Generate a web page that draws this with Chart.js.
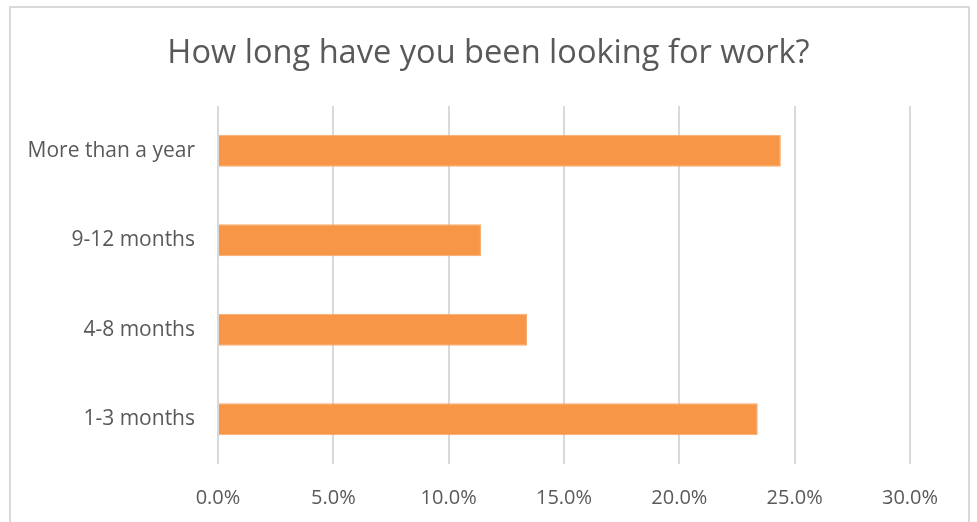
<!DOCTYPE html>
<html>
<head>
<meta charset="utf-8">
<script src="https://cdn.jsdelivr.net/npm/chart.js@4"></script>
<style>
  html, body { margin: 0; padding: 0; background: #ffffff; }
  #wrap { position: relative; width: 977px; height: 522px; }
</style>
</head>
<body>
<div id="wrap"><canvas id="c" width="977" height="522"></canvas></div>
<script>
const categories = ["More than a year", "9-12 months", "4-8 months", "1-3 months"];
const values = [24.4, 11.4, 13.4, 23.4];
const xTickMin = 0;
const xTickMax = 30;
const xTickStep = 5;
const titleText = "How long have you been looking for work?";

const FONT = "'Open Sans', Lato, sans-serif";
const TEXT = "#595959";

const borderPlugin = {
  id: 'outerBorder',
  beforeDraw(chart) {
    const ctx = chart.ctx;
    ctx.save();
    ctx.strokeStyle = '#d9d9d9';
    ctx.lineWidth = 2;
    ctx.strokeRect(10, 7, 959, 540);
    ctx.restore();
  }
};

const centeredTitle = {
  id: 'centeredTitle',
  afterDraw(chart) {
    const ctx = chart.ctx;
    ctx.save();
    ctx.fillStyle = TEXT;
    ctx.font = "normal 32.6px " + FONT;
    ctx.textAlign = 'center';
    ctx.textBaseline = 'alphabetic';
    ctx.fillText(titleText, chart.width / 2, 63);
    ctx.restore();
  }
};

new Chart(document.getElementById('c'), {
  type: 'bar',
  data: {
    labels: categories,
    datasets: [{
      data: values,
      backgroundColor: '#F79646',
      borderColor: '#F9A86B',
      borderWidth: 1,
      barPercentage: 0.36,
      categoryPercentage: 1.0
    }]
  },
  options: {
    indexAxis: 'y',
    responsive: false,
    animation: false,
    devicePixelRatio: 1,
    layout: { padding: { left: 0, right: 67, top: 106, bottom: 0 } },
    plugins: {
      legend: { display: false },
      tooltip: { enabled: false },
      title: { display: false }
    },
    scales: {
      x: {
        min: xTickMin,
        max: xTickMax,
        border: { display: false },
        grid: { color: '#d9d9d9', lineWidth: 2, drawTicks: false },
        ticks: {
          stepSize: xTickStep,
          color: TEXT,
          padding: 22,
          font: { family: FONT, size: 20 },
          callback: (v) => Number(v).toFixed(1) + '%'
        },
        afterFit(axis) { axis.height = 58; }
      },
      y: {
        border: { display: false },
        grid: { display: false, drawTicks: false },
        ticks: {
          color: TEXT,
          padding: 23,
          font: { family: FONT, size: 21 }
        },
        afterFit(axis) { axis.width = 218; }
      }
    }
  },
  plugins: [borderPlugin, centeredTitle]
});
</script>
</body>
</html>
